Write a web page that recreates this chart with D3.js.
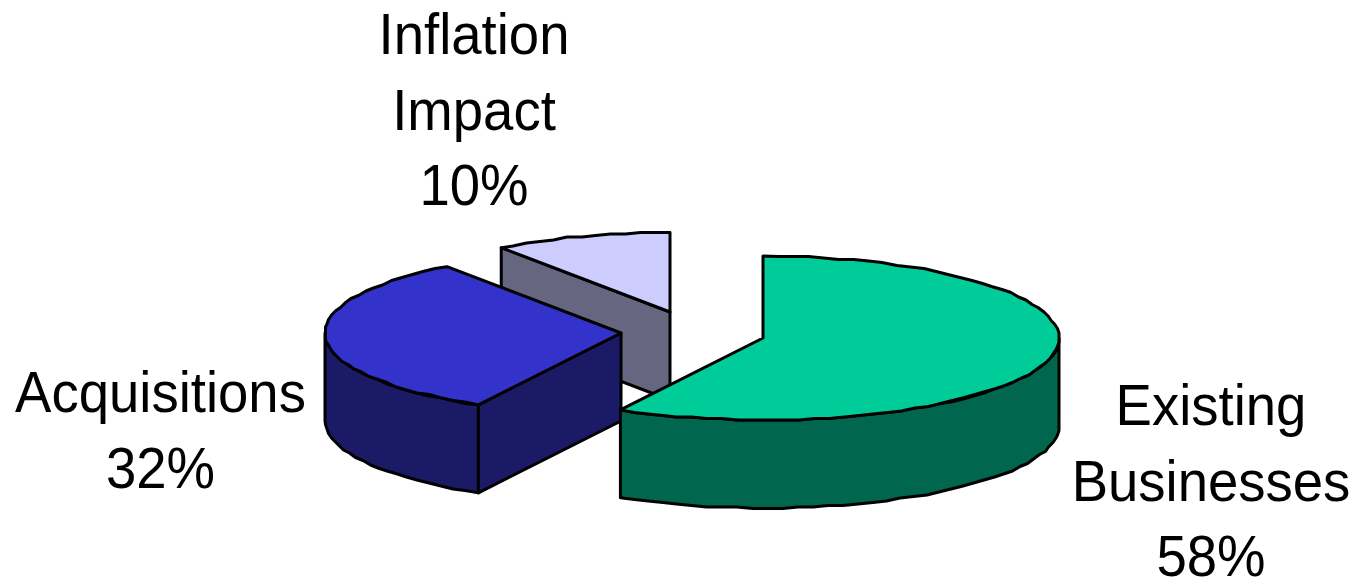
<!DOCTYPE html>
<html>
<head>
<meta charset="utf-8">
<script src="https://cdn.jsdelivr.net/npm/d3@7"></script>
<style>
  html, body { margin: 0; padding: 0; background: #fff; overflow: hidden; }
  text { font-family: "Liberation Sans", Arial, sans-serif; fill: #000; text-anchor: middle; }
</style>
</head>
<body>
<svg id="chart" width="1357" height="579"></svg>
<script>
// Revenue growth sources, in percent
const categories = ["Existing Businesses", "Acquisitions", "Inflation Impact"];
const shares = [58, 32, 10];
const labelLines = [["Existing", "Businesses", "58%"], ["Acquisitions", "32%"], ["Inflation", "Impact", "10%"]];

// Appearance of each wedge
const topColors = ["#00CC99", "#3333CC", "#CCCCFF"];
const sideColors = ["#00664D", "#1A1A66", "#666680"];
const apexX = [763, 621, 670];
const apexY = [338, 333, 312];
const radiusFactor = [1, 1, 0.97];
const labelX = [1211, 160.5, 474];
const labelBaseline = [425, 412, 54];

const RX = 296, RY = 82, DEPTH = 88, LINE_HEIGHT = 75.7, FONT = 58, NARROW = 0.94;
const GRID = 1.5;

const svg = d3.select("#chart");
const wedges = d3.pie().sort(null).startAngle(0).endAngle(2 * Math.PI)(shares);

// Tilted view: unit circle coordinates are flattened onto an ellipse per wedge
const scaleX = i => d3.scaleLinear().domain([-1, 1]).range([apexX[i] - RX * radiusFactor[i], apexX[i] + RX * radiusFactor[i]]);
const scaleY = i => d3.scaleLinear().domain([-1, 1]).range([apexY[i] - RY * radiusFactor[i], apexY[i] + RY * radiusFactor[i]]);
const rimPoint = (i, a, drop = 0) => [scaleX(i)(Math.sin(a)), scaleY(i)(-Math.cos(a)) + drop];

// The rim is stroked as short facets snapped to a coarse device grid,
// with its end points left exact so the straight edges still meet it
function rim(i, a0, a1, drop = 0) {
  const n = Math.max(2, Math.ceil(Math.abs(a1 - a0) / (3 * Math.PI / 180)));
  return d3.range(n + 1).map(k => {
    const p = rimPoint(i, a0 + (a1 - a0) * k / n, drop);
    return (k === 0 || k === n) ? p : [Math.round(p[0] / GRID) * GRID, Math.round(p[1] / GRID) * GRID];
  });
}
const path = d3.line();

function face(points, fill) {
  svg.append("path")
    .attr("d", path(points) + "Z")
    .attr("fill", fill)
    .attr("stroke", "#000")
    .attr("stroke-width", 3)
    .attr("stroke-linejoin", "round");
}

// Back to front so nearer wedges cover farther ones
[2, 1, 0].forEach(i => {
  const w = wedges[i];
  const apex = [apexX[i], apexY[i]];
  const a0 = w.startAngle, a1 = w.endAngle;

  // Outer wall: only the arc running across the lower half faces the viewer
  const wallStart = Math.max(a0, Math.PI / 2);
  const wallEnd = Math.min(a1, 3 * Math.PI / 2);
  if (wallEnd > wallStart) {
    face(rim(i, wallStart, wallEnd).concat(rim(i, wallEnd, wallStart, DEPTH)), sideColors[i]);
  }

  // Cut face at the wedge's starting angle, visible on the left half
  if (a0 > Math.PI) {
    const c = rimPoint(i, a0);
    face([c, apex, [apex[0], apex[1] + DEPTH], [c[0], c[1] + DEPTH]], sideColors[i]);
  }

  // Top surface
  face([apex].concat(rim(i, a0, a1)), topColors[i]);
});

// Labels, set slightly narrower than the font's natural width
labelLines.forEach((lines, i) => {
  const t = svg.append("text")
    .attr("font-size", FONT)
    .attr("transform", `translate(${labelX[i]},0) scale(${NARROW},1)`);
  t.selectAll("tspan").data(lines).join("tspan")
    .attr("x", 0)
    .attr("y", (d, k) => labelBaseline[i] + k * LINE_HEIGHT)
    .text(d => d);
});
</script>
</body>
</html>
